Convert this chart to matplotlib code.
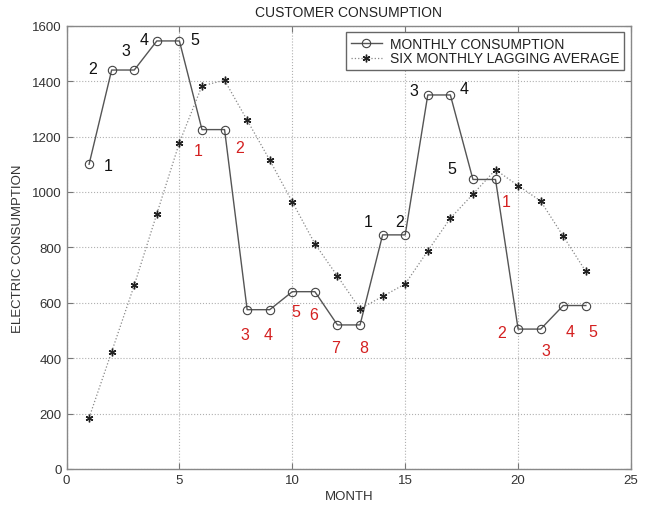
import matplotlib
matplotlib.use("Agg")
import matplotlib.pyplot as plt

plt.rcParams['font.family'] = ['Liberation Sans', 'DejaVu Sans']

months = list(range(1, 24))
monthly = [1100, 1440, 1440, 1545, 1545, 1225, 1225, 575, 575, 640, 640,
           520, 520, 845, 845, 1350, 1350, 1045, 1045, 505, 505, 590, 590]
lagging = [185, 423, 663, 921, 1178, 1383, 1403, 1259, 1115, 964, 813,
           696, 578, 623, 668, 787, 905, 992, 1080, 1023, 967, 840, 713]

# run-length labels placed beside the monthly points: (text, x, y, colour)
label_text = ['1', '2', '3', '4', '5', '1', '2', '3', '4', '5', '6', '7', '8',
              '1', '2', '3', '4', '5', '1', '2', '3', '4', '5']
label_x = [1.83, 1.16, 2.62, 3.42, 5.68, 5.85, 7.67, 7.89, 8.91, 10.15, 10.94,
           11.92, 13.15, 13.38, 14.75, 15.37, 17.62, 17.05, 19.48, 19.26,
           21.25, 22.31, 23.33]
label_y = [1097, 1444, 1509, 1549, 1549, 1148, 1162, 487, 487, 570, 556,
           437, 437, 895, 895, 1365, 1375, 1083, 964, 491, 426, 498, 498]
label_red = [False] * 5 + [True] * 8 + [False] * 5 + [True] * 5

fig = plt.figure(figsize=(6.51, 5.06), dpi=100)
ax = fig.add_axes([66.5 / 651, 1 - 470 / 506, (631 - 66.5) / 651, (470 - 26.7) / 506])

ax.plot(months, monthly, color='#555555', lw=1.0, marker='o', ms=6,
        mfc='none', mec='#444444', mew=0.8, label='MONTHLY CONSUMPTION')
# asterisk marker: six spokes
ax.plot(months, lagging, color='#888888', lw=0.9, ls=':', marker=(6, 2, 0),
        ms=5.5, mfc='#222222', mec='#222222', mew=1.0,
        label='SIX MONTHLY LAGGING AVERAGE')

for t, x, y, red in zip(label_text, label_x, label_y, label_red):
    ax.text(x, y, t, color='#d42020' if red else '#111111', fontsize=11.5,
            ha='center', va='center')

ax.set_xlim(0, 25)
ax.set_ylim(0, 1600)
ax.set_xticks(range(0, 26, 5))
ax.set_yticks(range(0, 1601, 200))
ax.grid(True, ls=':', color='#b0b0b0', lw=0.8)
ax.tick_params(direction='in', length=4, color='#777777', labelsize=9.5,
               labelcolor='#333333', top=True, right=True,
               labeltop=False, labelright=False)
for s in ax.spines.values():
    s.set_color('#888888')
    s.set_linewidth(1.0)

ax.set_title('CUSTOMER CONSUMPTION', fontsize=10, color='#222222', pad=7)
ax.set_xlabel('MONTH', fontsize=9.5, color='#333333', labelpad=3)
ax.set_ylabel('ELECTRIC CONSUMPTION', fontsize=9.5, color='#333333', labelpad=6)

leg = ax.legend(loc='upper right', bbox_to_anchor=(0.988, 0.986), fontsize=10,
                fancybox=False, framealpha=1, edgecolor='#666666',
                borderpad=0.35, handlelength=2.2, labelspacing=0.05,
                handletextpad=0.6, borderaxespad=0)
leg.get_frame().set_linewidth(1.0)
for t in leg.get_texts():
    t.set_color('#222222')

fig.savefig('out.png', dpi=100)
